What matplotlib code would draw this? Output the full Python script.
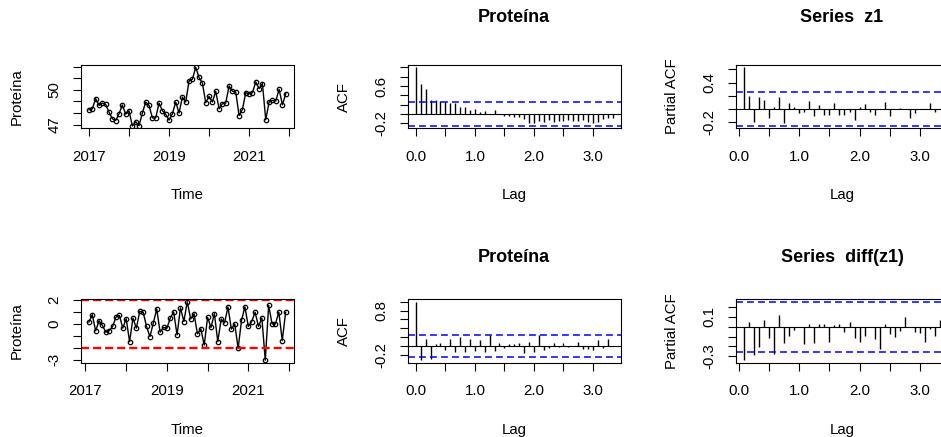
import numpy as np
import matplotlib
matplotlib.use('Agg')
import matplotlib.pyplot as plt

plt.rcParams['font.family'] = ['Liberation Sans', 'DejaVu Sans']
plt.rcParams['font.size'] = 10.8

# monthly series, Jan 2017 - Dec 2021
start_year = 2017
protein = [48.28, 48.37, 49.24, 48.66, 48.86, 48.74, 48.08, 47.50, 47.35, 47.93, 48.70, 47.90,
           48.20, 46.88, 47.26, 46.90, 48.00, 48.95, 48.66, 47.58, 47.58, 48.86, 48.20, 47.90,
           47.38, 47.93, 48.95, 48.00, 49.38, 48.95, 50.78, 50.92, 51.95, 51.07, 50.60, 48.89,
           49.44, 48.95, 49.88, 48.37, 48.80, 48.86, 50.34, 49.88, 49.82, 47.78, 48.30, 49.76,
           49.67, 49.76, 50.69, 50.11, 50.55, 47.41, 48.95, 49.10, 49.03, 50.05, 48.71, 49.67]

# standardised differenced series, Feb 2017 - Dec 2021
diff_std = [0.15, 0.78, -0.59, 0.27, -0.13, -0.70, -0.56, -0.22, 0.58, 0.72, -0.36,
            0.44, -1.50, 0.49, -0.36, 1.06, 0.98, -0.22, -1.07, 0.07, 1.26, -0.70, -0.30,
            -0.36, 0.49, 1.00, -0.93, 1.35, 0.20, 1.87, 0.41, 0.86, -0.84, -0.41, -1.78,
            0.55, -0.30, 0.86, -1.50, 0.41, 0.07, 1.43, -0.44, 0.00, -2.06, 0.30, 1.43,
            -0.22, 0.20, 0.98, -0.22, 0.49, -3.06, 1.57, 0.00, 0.00, 1.00, -1.41, 0.98]

# acf values, lags 0..40 (months)
acf_z1 = [1.0, 0.65, 0.53, 0.30, 0.30, 0.27, 0.25, 0.23, 0.24, 0.15, 0.15, 0.09, 0.11, 0.04,
          0.06, 0.01, 0.08, 0.0, -0.03, -0.05, -0.06, -0.06, -0.10, -0.20, -0.18, -0.15, -0.17,
          -0.13, -0.17, -0.15, -0.15, -0.13, -0.15, -0.15, -0.13, -0.17, -0.18, -0.17, -0.10,
          -0.08, -0.08]
acf_diff = [1.0, -0.32, 0.17, -0.30, 0.05, 0.07, -0.08, 0.16, -0.13, 0.20, -0.13, 0.15, -0.10,
            0.13, -0.13, 0.24, -0.10, 0.07, -0.04, 0.05, 0.05, 0.07, -0.15, 0.10, -0.13, 0.24,
            -0.08, -0.04, 0.07, -0.02, 0.07, -0.02, 0.01, 0.10, -0.07, -0.06, -0.08, 0.13,
            -0.04, 0.15, 0.0]

# pacf values, lags 1..40
pacf_z1 = [0.63, 0.20, -0.19, 0.18, 0.14, -0.14, 0.04, 0.18, -0.21, 0.09, 0.03, -0.06, -0.05,
           0.12, -0.11, 0.07, -0.09, -0.09, 0.09, -0.09, -0.09, -0.04, -0.17, 0.04, 0.08, -0.05,
           -0.09, 0.01, 0.11, -0.11, 0.01, 0.02, 0.0, -0.14, -0.06, 0.0, 0.01, 0.09, -0.04, 0.0]
pacf_diff = [-0.34, 0.05, -0.29, -0.21, 0.07, -0.11, -0.28, 0.12, -0.16, -0.09, -0.03, 0.0,
             -0.18, 0.03, -0.16, 0.03, 0.03, -0.15, 0.02, 0.03, -0.05, 0.05, -0.11, -0.15,
             -0.09, 0.0, -0.12, -0.23, 0.03, -0.07, -0.10, -0.04, 0.10, 0.0, -0.05, -0.06,
             -0.15, -0.02, -0.09, 0.07]

W, H = 941, 437
BW, BH = 212.5, 63.3
cols = [81, 408, 735.7]
rows = [65, 299.3]
title_y = [18, 258]

fig = plt.figure(figsize=(W / 100, H / 100), dpi=100)


def px(x, y):
    return x / W, 1 - y / H


def panel(c, r, xlab, ylab, title=None):
    x0, y0 = cols[c], rows[r]
    ax = fig.add_axes([x0 / W, 1 - (y0 + BH) / H, BW / W, BH / H])
    fig.text(*px(x0 + BW / 2, y0 + BH + 67), xlab, ha='center', va='center')
    fig.text(*px(x0 - 64, y0 + BH / 2), ylab, ha='center', va='center', rotation=90)
    if title:
        fig.text(*px(x0 + BW / 2, title_y[r]), title, ha='center', va='center',
                 fontsize=13, fontweight='bold')
    ax.tick_params(direction='out', length=5.5, width=0.8)
    ax.tick_params(axis='x', pad=10)
    ax.tick_params(axis='y', pad=8.6)
    for s in ax.spines.values():
        s.set_linewidth(0.8)
    return ax


def yticks(ax, vals, shown):
    ax.set_yticks(vals)
    labs = [('%g' % v if v in shown else '') for v in vals]
    labs = [l if not l.startswith('-') else '-' + l[1:] for l in labs]
    ax.set_yticklabels(labs, rotation=90, va='center')


# --- time series panels
t1 = start_year + np.arange(len(protein)) / 12
t2 = start_year + np.arange(1, len(diff_std) + 1) / 12
years = np.arange(2017, 2023)
year_labels = ['2017', '', '2019', '', '2021', '']

ax = panel(0, 0, 'Time', 'Proteína')
ax.plot(t1, protein, '-o', color='black', lw=1, ms=3.2, mfc='none', mew=0.9)
ax.set_xlim(2016.80, 2022.11)
ax.set_ylim(46.68, 52.15)
ax.set_xticks(years)
ax.set_xticklabels(year_labels)
yticks(ax, [47, 48, 49, 50, 51, 52], [47, 50])

ax = panel(0, 1, 'Time', 'Proteína')
ax.plot(t2, diff_std, '-o', color='black', lw=1, ms=3.2, mfc='none', mew=0.9)
for lvl in (-2, 2):
    ax.axhline(lvl, color='red', lw=1.7, dashes=(3.4, 1.7))
ax.set_xlim(2016.89, 2022.11)
ax.set_ylim(-3.26, 2.07)
ax.set_xticks(years)
ax.set_xticklabels(year_labels)
yticks(ax, [-3, -2, -1, 0, 1, 2], [-3, 0, 2])

# --- correlogram panels
lag_ticks = np.arange(0, 3.01, 0.5)
lag_labels = ['0.0', '', '1.0', '', '2.0', '', '3.0']


def correlogram(ax, lags, vals, n, xlim, ylim):
    clim = 1.96 / np.sqrt(n)
    ax.vlines(lags, 0, vals, color='black', lw=1)
    ax.axhline(0, color='black', lw=0.8)
    for lvl in (-clim, clim):
        ax.axhline(lvl, color='blue', lw=1.1, dashes=(4.5, 2.7))
    ax.set_xlim(*xlim)
    ax.set_ylim(*ylim)
    ax.set_xticks(lag_ticks)
    ax.set_xticklabels(lag_labels)


acf_lags = np.arange(len(acf_z1)) / 12
pacf_lags = np.arange(1, len(pacf_z1) + 1) / 12

ax = panel(1, 0, 'Lag', 'ACF', 'Proteína')
correlogram(ax, acf_lags, acf_z1, len(protein), (-0.133, 3.467), (-0.303, 1.05))
yticks(ax, [-0.2, 0, 0.2, 0.4, 0.6, 0.8, 1.0], [-0.2, 0.6])

ax = panel(1, 1, 'Lag', 'ACF', 'Proteína')
correlogram(ax, acf_lags, acf_diff, len(diff_std), (-0.133, 3.467), (-0.37, 1.053))
yticks(ax, [-0.2, 0, 0.2, 0.4, 0.6, 0.8, 1.0], [-0.2, 0.8])

ax = panel(2, 0, 'Lag', 'Partial ACF', 'Series  z1')
correlogram(ax, pacf_lags, pacf_z1, len(protein), (-0.047, 3.463), (-0.288, 0.665))
yticks(ax, [-0.2, 0, 0.2, 0.4, 0.6], [-0.2, 0.4])

ax = panel(2, 1, 'Lag', 'Partial ACF', 'Series  diff(z1)')
correlogram(ax, pacf_lags, pacf_diff, len(diff_std), (-0.047, 3.463), (-0.364, 0.279))
yticks(ax, [-0.3, -0.2, -0.1, 0, 0.1, 0.2], [-0.3, 0.1])

fig.savefig('out.png', dpi=100)
